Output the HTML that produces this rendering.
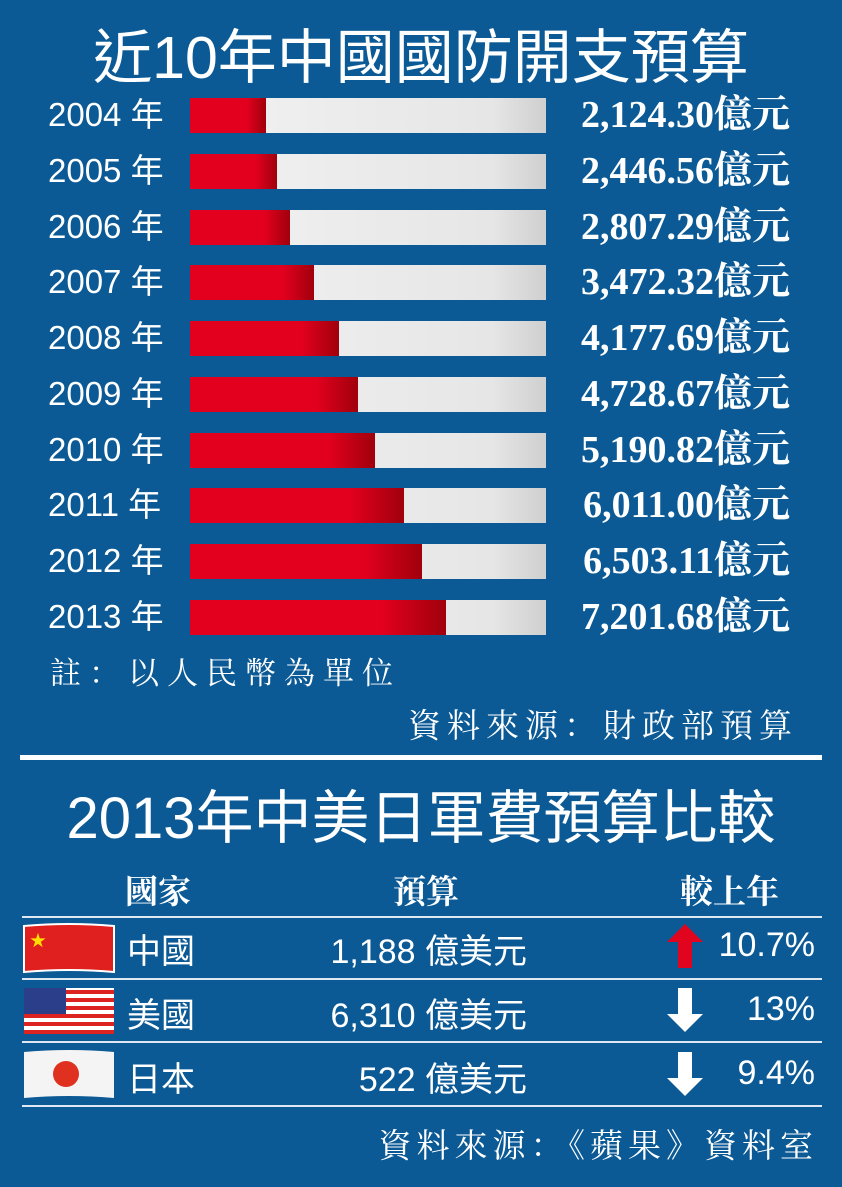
<!DOCTYPE html>
<html><head><meta charset="utf-8"><style>
body{margin:0;width:842px;height:1187px;background:#0b5a95;overflow:hidden;position:relative;font-family:"Liberation Sans","Noto Sans CJK TC",sans-serif;color:#fff}
.a{position:absolute;white-space:nowrap}
.serif{font-family:"Liberation Serif","Noto Serif CJK SC",serif}
.hl{position:absolute;left:22px;width:800px;height:2px;background:#dfe8f2}
</style></head><body>
<div class="a" style="left:0;width:842px;text-align:center;top:24px;font-size:59px;line-height:68px">近10年中國國防開支預算</div>
<div id="bars"></div>
<div class="a serif" style="left:50px;top:648px;font-size:31px;letter-spacing:8px">註：以人民幣為單位</div>
<div class="a serif" style="right:44px;top:700px;font-size:33px;letter-spacing:6px">資料來源：財政部預算</div>
<div class="a" style="left:20px;width:802px;top:755px;height:5px;background:#fff"></div>
<div class="a" style="left:0;width:842px;text-align:center;top:786px;font-size:58px;line-height:66px">2013年中美日軍費預算比較</div>
<div class="a serif" style="left:125px;top:866px;font-size:33px;font-weight:bold">國家</div>
<div class="a serif" style="left:393px;top:866px;font-size:33px;font-weight:bold">預算</div>
<div class="a serif" style="left:680px;top:866px;font-size:33px;font-weight:bold">較上年</div>
<div class="hl" style="top:916px"></div>
<div class="hl" style="top:978px"></div>
<div class="hl" style="top:1041px"></div>
<div class="hl" style="top:1105px"></div>
<svg class="a" style="left:22px;top:922px" width="94" height="54"><path d="M2 4 Q47 0 92 4 L92 50 Q47 46 2 50Z" fill="#e0201e" stroke="#fff" stroke-width="2"/><text x="8" y="24" fill="#ffde00" font-size="16">★</text></svg>
<div class="a" style="left:127px;top:924px;font-size:34px">中國</div>
<div class="a" style="right:315px;top:924px;font-size:34px">1,188 億美元</div>
<svg class="a" style="left:665px;top:922px" width="40" height="48"><path d="M20 2 L38 20 L27 20 L27 46 L13 46 L13 20 L2 20Z" fill="#e0041e"/></svg>
<div class="a" style="right:27px;top:926px;font-size:34px">10.7%</div>

<svg class="a" style="left:22px;top:984px" width="94" height="54"><rect x="2" y="4" width="90" height="46" fill="#fff"/><g fill="#d22"><rect x="2" y="6" width="90" height="4"/><rect x="2" y="14" width="90" height="4"/><rect x="2" y="22" width="90" height="4"/><rect x="2" y="30" width="90" height="4"/><rect x="2" y="38" width="90" height="4"/><rect x="2" y="46" width="90" height="4"/></g><rect x="2" y="4" width="42" height="26" fill="#2a3e8a"/></svg>
<div class="a" style="left:127px;top:988px;font-size:34px">美國</div>
<div class="a" style="right:315px;top:988px;font-size:34px">6,310 億美元</div>
<svg class="a" style="left:665px;top:986px" width="40" height="48"><path d="M20 46 L38 28 L27 28 L27 2 L13 2 L13 28 L2 28Z" fill="#fff"/></svg>
<div class="a" style="right:27px;top:990px;font-size:34px">13%</div>

<svg class="a" style="left:22px;top:1048px" width="94" height="54"><path d="M2 4 Q47 0 92 4 L92 50 Q47 46 2 50Z" fill="#f4f4f4"/><circle cx="44" cy="26" r="13" fill="#e03020"/></svg>
<div class="a" style="left:127px;top:1052px;font-size:34px">日本</div>
<div class="a" style="right:315px;top:1052px;font-size:34px">522 億美元</div>
<svg class="a" style="left:665px;top:1050px" width="40" height="48"><path d="M20 46 L38 28 L27 28 L27 2 L13 2 L13 28 L2 28Z" fill="#fff"/></svg>
<div class="a" style="right:27px;top:1054px;font-size:34px">9.4%</div>
<div class="a serif" style="right:24px;top:1120px;font-size:33px;letter-spacing:5px">資料來源：《蘋果》資料室</div>
<script>
const years=["2004","2005","2006","2007","2008","2009","2010","2011","2012","2013"];
const values=[2124.30,2446.56,2807.29,3472.32,4177.69,4728.67,5190.82,6011.00,6503.11,7201.68];
const axisMax=10000;
const X0=190,X1=546,TOP=98,STEP=55.75,H=35;
const xs=v=>X0+(v/axisMax)*(X1-X0);
const c=document.getElementById('bars');
const fmt=v=>v.toLocaleString('en-US',{minimumFractionDigits:2,maximumFractionDigits:2});
years.forEach((y,i)=>{
  const top=TOP+i*STEP;
  const lab=document.createElement('div');lab.className='a';
  
  
  lab.style.cssText=`left:48px;top:${top-4}px;font-size:33px;line-height:42px`;lab.textContent=y+' 年';c.appendChild(lab);
  const tr=document.createElement('div');tr.className='a';
  
  
  tr.style.cssText=`left:${X0}px;top:${top}px;width:${X1-X0}px;height:${H}px;background:linear-gradient(90deg,#f2f2f2,#e6e6e6 85%,#cfcfcf)`;c.appendChild(tr);
  const b=document.createElement('div');b.className='a';
  
  
  b.style.cssText=`left:${X0}px;top:${top}px;width:${xs(values[i])-X0}px;height:${H}px;background:linear-gradient(90deg,#e2001e 75%,#a0000c)`;c.appendChild(b);
  const v=document.createElement('div');v.className='a serif';
  
  
  v.style.cssText=`right:52px;top:${top-5}px;font-size:38px;line-height:44px;font-weight:bold`;v.textContent=fmt(values[i])+'億元';c.appendChild(v);
});
</script>
</body></html>
